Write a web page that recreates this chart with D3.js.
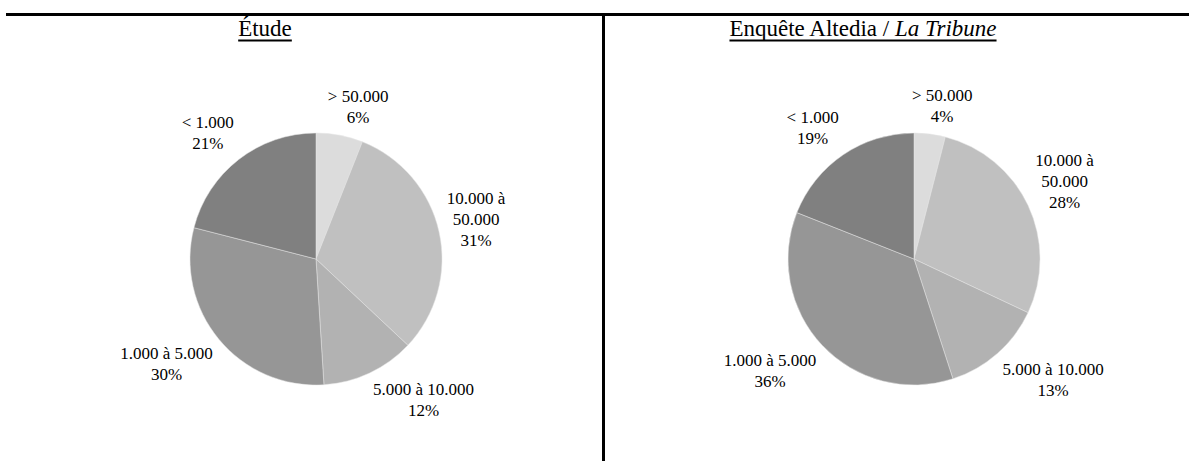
<!DOCTYPE html>
<html>
<head>
<meta charset="utf-8">
<script src="https://cdn.jsdelivr.net/npm/d3@7"></script>
<style>
  html, body { margin: 0; padding: 0; background: #fff; }
  svg { display: block; }
  text { font-family: "Liberation Serif", "Times New Roman", serif; fill: #000; }
</style>
</head>
<body>
<svg id="chart" width="1189" height="462"></svg>
<script>
// Size classes of companies (clockwise from 12 o'clock)
const categories = ["> 50.000", "10.000 à\n50.000", "5.000 à 10.000", "1.000 à 5.000", "< 1.000"];
const etudeValues = [6, 31, 12, 30, 21];
const altediaValues = [4, 28, 13, 36, 19];
const sliceColors = ["#dcdcdc", "#c0c0c0", "#b2b2b2", "#969696", "#808080"];

const svg = d3.select("#chart");
const W = 1189, H = 462;

// frame: top rule and a vertical divider between the two panels
svg.append("line").attr("x1", 6).attr("x2", W).attr("y1", 14.5).attr("y2", 14.5)
  .attr("stroke", "#000").attr("stroke-width", 3);
svg.append("line").attr("x1", 603.5).attr("x2", 603.5).attr("y1", 13).attr("y2", 461)
  .attr("stroke", "#000").attr("stroke-width", 3);

const panels = [
  { x0: 6, values: etudeValues, title: [{ t: "Étude", italic: false }] },
  { x0: 604, values: altediaValues, title: [{ t: "Enquête Altedia / ", italic: false }, { t: "La Tribune", italic: true }] }
];

const radius = 126;
const pie = d3.pie().sort(null).value(d => d);
const arc = d3.arc().innerRadius(0).outerRadius(radius);

panels.forEach(p => {
  const g = svg.append("g");

  // underlined title
  const title = g.append("text")
    .attr("x", p.x0 + 259).attr("y", 36)
    .attr("text-anchor", "middle")
    .style("font-size", "23px");
  p.title.forEach(s => title.append("tspan").text(s.t).style("font-style", s.italic ? "italic" : "normal"));
  const tb = title.node().getBBox();
  g.append("line").attr("x1", tb.x).attr("x2", tb.x + tb.width)
    .attr("y1", 40.5).attr("y2", 40.5).attr("stroke", "#000").attr("stroke-width", 2);

  // pie
  const cx = p.x0 + 310, cy = 259;
  const pg = g.append("g").attr("transform", `translate(${cx},${cy})`);
  const arcs = pie(p.values);
  pg.selectAll("path").data(arcs).join("path")
    .attr("d", arc)
    .attr("fill", (d, i) => sliceColors[i])
    .attr("stroke", "#e4e4e4")
    .attr("stroke-width", 0.5);

  // outside labels: category and percentage, placed off the slice's mid-angle
  arcs.forEach((d, i) => {
    const lines = categories[i].split("\n").concat([d.data + "%"]);
    const lt = pg.append("text").attr("text-anchor", "middle").style("font-size", "17px");
    lines.forEach((ln, k) => lt.append("tspan").attr("x", 0).attr("dy", k === 0 ? 0 : 21).text(ln));
    const b = lt.node().getBBox();
    const a = (d.startAngle + d.endAngle) / 2;
    const s = Math.sin(a), c = -Math.cos(a);
    const gap = 8;
    const px = (radius + gap) * s, py = (radius + gap) * c;
    const clamp = v => Math.max(-1, Math.min(1, v));
    const bx = px + clamp(s * 3) * b.width / 2;
    const by = py + clamp(c * 1.6) * b.height / 2;
    lt.attr("transform", `translate(${bx - (b.x + b.width / 2)},${by - (b.y + b.height / 2)})`);
  });
});
</script>
</body>
</html>
